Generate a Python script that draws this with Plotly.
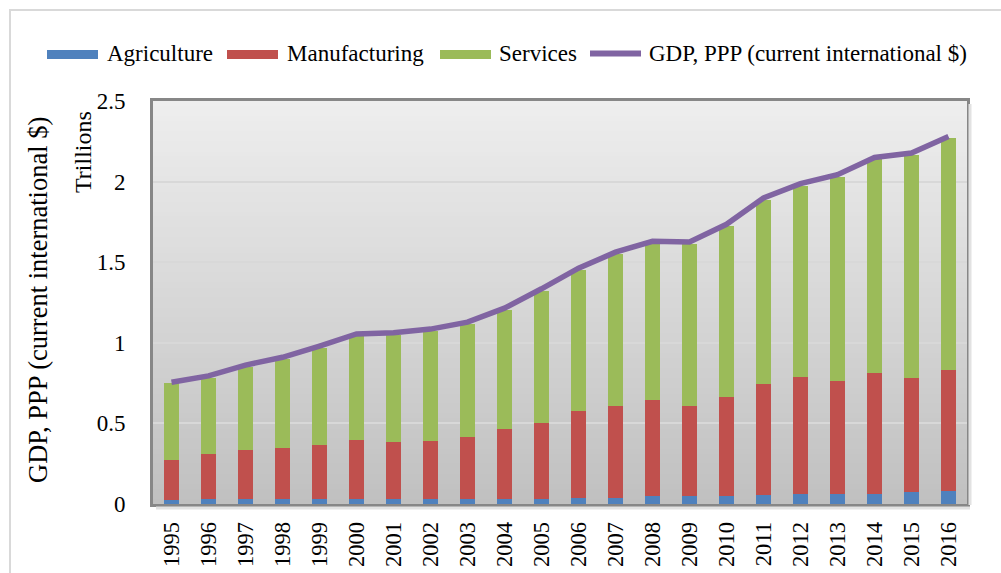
import plotly.graph_objects as go

years = [str(y) for y in range(1995, 2017)]
agriculture = [0.025, 0.032, 0.032, 0.032, 0.032, 0.032, 0.032, 0.032, 0.032, 0.032, 0.032,
               0.040, 0.040, 0.048, 0.048, 0.048, 0.055, 0.065, 0.065, 0.065, 0.073, 0.080]
manufacturing = [0.247, 0.279, 0.304, 0.313, 0.335, 0.368, 0.352, 0.360, 0.383, 0.432, 0.471,
                 0.534, 0.565, 0.598, 0.557, 0.613, 0.687, 0.724, 0.699, 0.747, 0.708, 0.749]
services = [0.476, 0.470, 0.515, 0.554, 0.602, 0.642, 0.666, 0.682, 0.701, 0.739, 0.820,
            0.877, 0.946, 0.971, 1.008, 1.063, 1.144, 1.186, 1.266, 1.326, 1.384, 1.440]
gdp = [0.755, 0.795, 0.862, 0.910, 0.980, 1.055, 1.062, 1.085, 1.128, 1.215, 1.335,
       1.463, 1.562, 1.630, 1.625, 1.735, 1.898, 1.987, 2.043, 2.150, 2.177, 2.280]
y_ticks = [0, 0.5, 1, 1.5, 2, 2.5]
y_tick_text = ["0", "0.5", "1", "1.5", "2", "2.5"]

series_names = ["Agriculture", "Manufacturing", "Services", "GDP, PPP (current international $)"]
colors = ["#4f81bd", "#c0504d", "#9bbb59", "#8064a2"]

W, H = 1001, 573
L, R, T, B = 153, 34, 101, 69
PW, PH = W - L - R, H - T - B
FONT = "Liberation Serif"


def px(x):
    return (x - L) / PW


def py(y):
    return (H - B - y) / PH


fig = go.Figure()
for name, vals, col in zip(series_names[:3], [agriculture, manufacturing, services], colors[:3]):
    fig.add_trace(go.Bar(x=years, y=vals, name=name, marker=dict(color=col, line=dict(width=0)),
                         showlegend=False))
fig.add_trace(go.Scatter(x=years, y=gdp, name=series_names[3], mode="lines",
                         line=dict(color=colors[3], width=5.5), showlegend=False))

shapes = []
# gradient plot background
n = 80
top_c, bot_c = (238, 238, 238), (192, 192, 192)
for i in range(n):
    t = (i + 0.5) / n
    c = tuple(round(bot_c[k] + (top_c[k] - bot_c[k]) * t) for k in range(3))
    shapes.append(dict(type="rect", xref="x domain", yref="y domain", x0=0, x1=1,
                       y0=i / n, y1=min(1, (i + 1.3) / n), layer="below",
                       fillcolor="rgb(%d,%d,%d)" % c, line=dict(width=0)))
# outer chart border
shapes.append(dict(type="rect", xref="paper", yref="paper", x0=px(10), x1=px(1100),
                   y0=py(700), y1=py(10), line=dict(color="#d9d9d9", width=2), layer="above"))
# frame shadow
shapes.append(dict(type="line", xref="paper", yref="paper", x0=px(970), x1=px(970),
                   y0=py(505), y1=py(104), line=dict(color="#e2e2e2", width=3)))
shapes.append(dict(type="line", xref="paper", yref="paper", x0=px(156), x1=px(970),
                   y0=py(508), y1=py(508), line=dict(color="#e2e2e2", width=3)))

annotations = []
# custom legend
leg_x = [(47, 98, 105), (227, 278, 285), (440, 491, 497), (588, 643, 647)]
for i, (x0, x1, tx) in enumerate(leg_x):
    if i < 3:
        shapes.append(dict(type="rect", xref="paper", yref="paper", x0=px(x0), x1=px(x1),
                           y0=py(59), y1=py(50), fillcolor=colors[i], line=dict(width=0)))
    else:
        shapes.append(dict(type="line", xref="paper", yref="paper", x0=px(x0 + 2), x1=px(x1 - 2),
                           y0=py(53.5), y1=py(53.5), line=dict(color=colors[i], width=6)))
    annotations.append(dict(text=series_names[i], xref="paper", yref="paper", x=px(tx), y=py(54),
                            xanchor="left", yanchor="middle", showarrow=False,
                            font=dict(family=FONT, size=23, color="#000")))

annotations.append(dict(text="GDP, PPP (current international $)", xref="paper", yref="paper",
                        x=px(38), y=py(300), textangle=-90, showarrow=False,
                        xanchor="center", yanchor="middle",
                        font=dict(family=FONT, size=26.5, color="#000")))
annotations.append(dict(text="Trillions", xref="paper", yref="paper",
                        x=px(83), y=py(152), textangle=-90, showarrow=False,
                        xanchor="center", yanchor="middle",
                        font=dict(family=FONT, size=24, color="#000")))

fig.update_layout(
    width=W, height=H, margin=dict(l=L, r=R, t=T, b=B, pad=0, autoexpand=False),
    barmode="stack", bargap=0.62,
    paper_bgcolor="white", plot_bgcolor="rgba(0,0,0,0)",
    shapes=shapes, annotations=annotations, showlegend=False,
    font=dict(family=FONT, color="#000"),
)
fig.update_xaxes(type="category", tickangle=-90, tickfont=dict(family=FONT, size=22.5, color="#000"),
                 showline=True, mirror=True, linecolor="#878787", linewidth=3,
                 showgrid=False, ticks="", ticklabelstandoff=6, range=[-0.5, 21.5],
                 automargin=False)
fig.update_yaxes(range=[0, 2.5], tickvals=y_ticks, ticktext=y_tick_text,
                 tickfont=dict(family=FONT, size=23, color="#000"),
                 showline=True, mirror=True, linecolor="#878787", linewidth=3,
                 showgrid=True, gridcolor="#d8d8d8", gridwidth=2, zeroline=False,
                 ticks="", ticklabelstandoff=20, automargin=False)

fig.write_html("out.html")
